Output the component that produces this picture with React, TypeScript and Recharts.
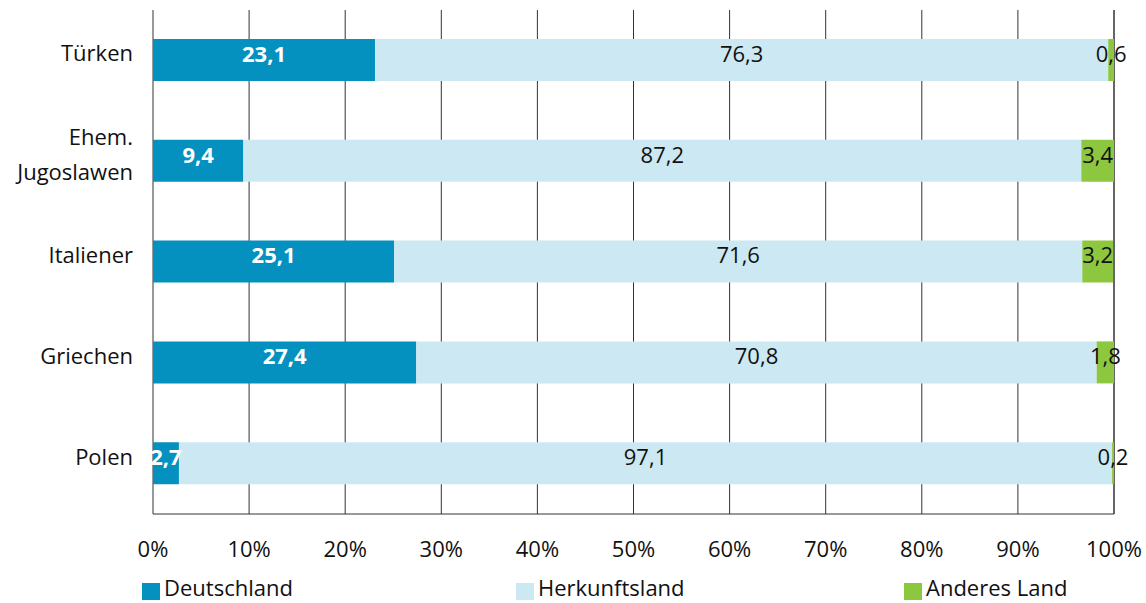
import React from 'react';
import { BarChart, Bar, XAxis, YAxis, CartesianGrid, LabelList } from 'recharts';

const groups = ['Türken', 'Ehem. Jugoslawen', 'Italiener', 'Griechen', 'Polen'];
const deutschland = [23.1, 9.4, 25.1, 27.4, 2.7];
const herkunftsland = [76.3, 87.2, 71.6, 70.8, 97.1];
const anderesLand = [0.6, 3.4, 3.2, 1.8, 0.2];
const xTicks = [0, 10, 20, 30, 40, 50, 60, 70, 80, 90, 100];

const data = groups.map((g, i) => ({
  group: g,
  deutschland: deutschland[i],
  herkunftsland: herkunftsland[i],
  anderesLand: anderesLand[i],
}));

const FONT = '"Open Sans", sans-serif';
const fmt = (v: any) => String(v).replace('.', ',');

const CategoryTick = (props: any) => {
  const { x, y, payload } = props;
  const value: string = payload.value;
  if (value === 'Ehem. Jugoslawen') {
    return (
      <text x={x} y={y} textAnchor="end" fontSize={22} fontFamily={FONT} fill="#111">
        <tspan x={x} dy={-16}>Ehem.</tspan>
        <tspan x={x} dy={35}>Jugoslawen</tspan>
      </text>
    );
  }
  return (
    <text x={x} y={y} dy={1} textAnchor="end" fontSize={22} fontFamily={FONT} fill="#111">
      {value}
    </text>
  );
};

const legendItems = [
  { name: 'Deutschland', color: '#0591bf', left: 142 },
  { name: 'Herkunftsland', color: '#cce8f3', left: 516 },
  { name: 'Anderes Land', color: '#8dc63f', left: 904 },
];

const App = () => {
  return (
    <div style={{ position: 'absolute', left: 0, top: 0, width: 1146, height: 603, background: '#fff' }}>
      <BarChart
        width={1146}
        height={603}
        data={data}
        layout="vertical"
        margin={{ top: 10, right: 32, bottom: 49, left: 0 }}
        barCategoryGap={0}
      >
        <CartesianGrid horizontal={false} stroke="#333" strokeWidth={1} />
        <XAxis
          type="number"
          domain={[0, 100]}
          ticks={xTicks}
          tickFormatter={(v) => `${v}%`}
          tickLine={false}
          tickSize={0}
          tickMargin={27}
          axisLine={{ stroke: '#333' }}
          height={40}
          tick={{ fontSize: 22, fontFamily: FONT, fill: '#111' }}
          interval={0}
        />
        <YAxis
          type="category"
          dataKey="group"
          width={153}
          axisLine={false}
          tickLine={false}
          tickSize={0}
          tickMargin={20}
          tick={<CategoryTick />}
          interval={0}
        />
        <Bar dataKey="deutschland" stackId="a" fill="#0591bf" barSize={42} isAnimationActive={false}>
          <LabelList
            dataKey="deutschland"
            position="center"
            formatter={fmt}
            fill="#fff"
            fontSize={22}
            fontWeight={700}
            fontFamily={FONT}
            dy={-6}
          />
        </Bar>
        <Bar dataKey="herkunftsland" stackId="a" fill="#cce8f3" barSize={42} isAnimationActive={false}>
          <LabelList
            dataKey="herkunftsland"
            position="center"
            formatter={fmt}
            fill="#111"
            fontSize={22}
            fontFamily={FONT}
            dy={-6}
          />
        </Bar>
        <Bar dataKey="anderesLand" stackId="a" fill="#8dc63f" barSize={42} isAnimationActive={false}>
          <LabelList
            dataKey="anderesLand"
            position="center"
            formatter={fmt}
            fill="#111"
            fontSize={22}
            fontFamily={FONT}
            dy={-6}
          />
        </Bar>
      </BarChart>
      {legendItems.map((item) => (
        <div
          key={item.name}
          style={{
            position: 'absolute',
            left: item.left,
            top: 573,
            display: 'flex',
            alignItems: 'flex-end',
            fontFamily: FONT,
            fontSize: 22,
            color: '#111',
            lineHeight: '28px',
          }}
        >
          <span style={{ display: 'inline-block', width: 18, height: 17, background: item.color, marginRight: 4, marginBottom: 1 }} />
          <span>{item.name}</span>
        </div>
      ))}
    </div>
  );
};

export default App;
